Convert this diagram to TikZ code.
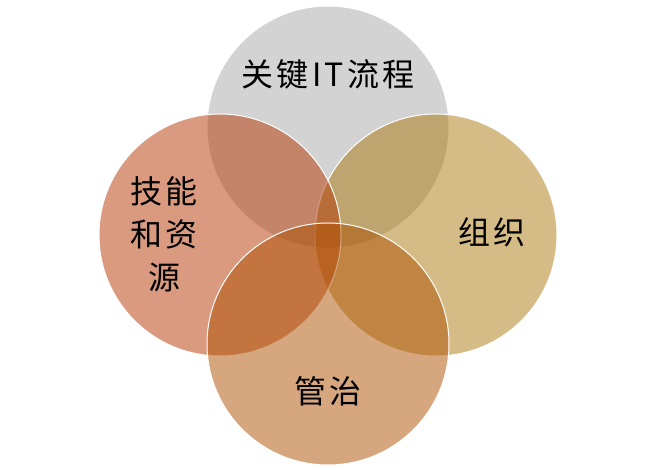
\documentclass[tikz,border=0pt]{standalone}
\usepackage{fontspec}
\newfontfamily\cjk[LetterSpace=10]{Noto Sans CJK SC}
\usepackage{tikz}
\usetikzlibrary{positioning}
\definecolor{procgray}{RGB}{167,167,167}
\definecolor{skillred}{RGB}{179,53,1}
\definecolor{orgtan}{RGB}{171,121,15}
\definecolor{govorange}{RGB}{173,79,0}

\begin{document}
\begin{tikzpicture}[x=1pt, y=1pt,
  venn/.style={circle, minimum size=242pt, inner sep=0pt, draw=white, line width=1pt, fill opacity=.5},
  lbl/.style={font={\cjk\fontsize{32}{43}\selectfont}, align=center, inner sep=0pt}]
\useasboundingbox (0,0) rectangle (656,470);
\coordinate (P) at (328,343);
\coordinate (S) at (220,235);
\coordinate (O) at (436,235);
\coordinate (G) at (328,126);
% circles
\node[venn, fill=procgray] (proc) at (P) {};
\node[venn, fill=orgtan] (org) at (O) {};
\node[venn, fill=skillred] (skill) at (S) {};
\node[venn, fill=govorange] (gov) at (G) {};
% labels
\node[lbl] (proclbl) at ([yshift=53pt]P) {关键IT流程};
\node[lbl] (skilllbl) at ([xshift=-56pt, yshift=1pt]S) {技能\\和资\\源};
\node[lbl] (orglbl) at ([xshift=56pt, yshift=3pt]O) {组织};
\node[lbl] (govlbl) at ([yshift=-47pt]G) {管治};
\end{tikzpicture}
\end{document}
